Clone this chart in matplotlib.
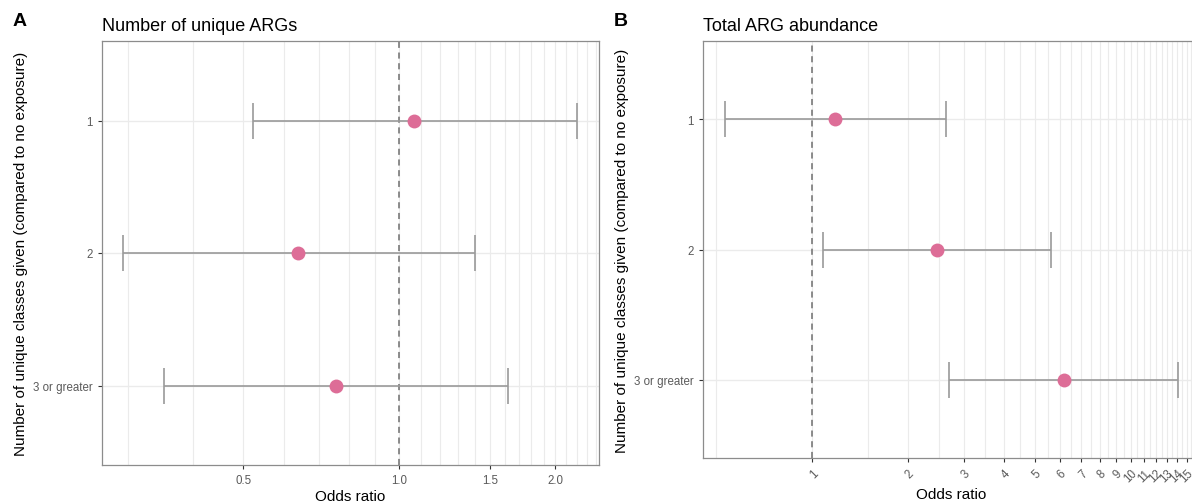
import matplotlib.pyplot as plt
from matplotlib.ticker import FixedLocator, NullFormatter
import numpy as np

plt.rcParams['font.family'] = ['Liberation Sans', 'DejaVu Sans']

categories = ["1", "2", "3 or greater"]

# odds ratios with 95% confidence intervals
unique_or = [1.07, 0.638, 0.756]
unique_low = [0.523, 0.293, 0.352]
unique_high = [2.20, 1.40, 1.62]

abund_or = [1.18, 2.47, 6.17]
abund_low = [0.534, 1.08, 2.69]
abund_high = [2.63, 5.62, 14.05]

unique_ticks = [0.5, 1.0, 1.5, 2.0]
unique_tick_labels = ["0.5", "1.0", "1.5", "2.0"]
abund_ticks = list(range(1, 16))
abund_tick_labels = [str(t) for t in abund_ticks]

point_color = "#dd6d97"
bar_color = "#9a9a9a"
grid_color = "#ebebeb"
text_gray = "#5a5a5a"
frame_gray = "#8c8c8c"

fig = plt.figure(figsize=(11.92, 5.02), dpi=100)
ax_a = fig.add_axes([102 / 1192, 1 - 466 / 502, 497 / 1192, 424 / 502])
ax_b = fig.add_axes([703 / 1192, 1 - 459 / 502, 497 / 1192, 417 / 502])


def draw_panel(ax, orr, low, high, ticks, tick_labels, grid_vals, xlim, rotate):
    y = np.arange(1, len(categories) + 1)
    ax.set_xscale("log")
    ax.set_xlim(*xlim)
    ax.set_ylim(len(categories) + 0.6, 0.4)

    for g in grid_vals:
        ax.axvline(g, color=grid_color, lw=0.8, zorder=0)
    for yy in y:
        ax.axhline(yy, color=grid_color, lw=1.0, zorder=0)
    ax.axvline(1, color="#6e6e6e", lw=1.1, ls=(0, (4, 3)), zorder=1)

    xerr = [np.array(orr) - np.array(low), np.array(high) - np.array(orr)]
    ax.errorbar(orr, y, xerr=xerr, fmt="none", ecolor=bar_color,
                elinewidth=1.2, capsize=13, capthick=1.2, zorder=2)
    ax.plot(orr, y, "o", color=point_color, ms=10, mec="none", zorder=3)

    ax.xaxis.set_major_locator(FixedLocator(ticks))
    ax.xaxis.set_minor_locator(FixedLocator([]))
    ax.xaxis.set_minor_formatter(NullFormatter())
    if rotate:
        ax.set_xticklabels(tick_labels, rotation=45, ha="right",
                           rotation_mode="anchor")
    else:
        ax.set_xticklabels(tick_labels)
    ax.set_yticks(y)
    ax.set_yticklabels(categories)
    ax.tick_params(axis="both", colors="#333333", labelcolor=text_gray,
                   labelsize=8.3, length=3, width=0.8)
    for s in ax.spines.values():
        s.set_color(frame_gray)
        s.set_linewidth(0.9)
    ax.set_xlabel("Odds ratio", fontsize=11, labelpad=2)
    ax.set_ylabel("Number of unique classes given (compared to no exposure)",
                  fontsize=11)


draw_panel(ax_a, unique_or, unique_low, unique_high, unique_ticks,
           unique_tick_labels, np.round(np.arange(0.3, 2.45, 0.1), 1),
           (0.267, 2.43), False)
draw_panel(ax_b, abund_or, abund_low, abund_high, abund_ticks,
           abund_tick_labels, np.arange(0.5, 16.5, 0.5),
           (0.455, 16.5), True)

ax_a.set_title("Number of unique ARGs", loc="left", fontsize=13, pad=8)
ax_b.set_title("Total ARG abundance", loc="left", fontsize=13, pad=8)
fig.text(13 / 1192, 1 - 22 / 502, "A", fontsize=14, fontweight="bold",
         va="center")
fig.text(614 / 1192, 1 - 22 / 502, "B", fontsize=14, fontweight="bold",
         va="center")

fig.savefig("out.png", dpi=100)
